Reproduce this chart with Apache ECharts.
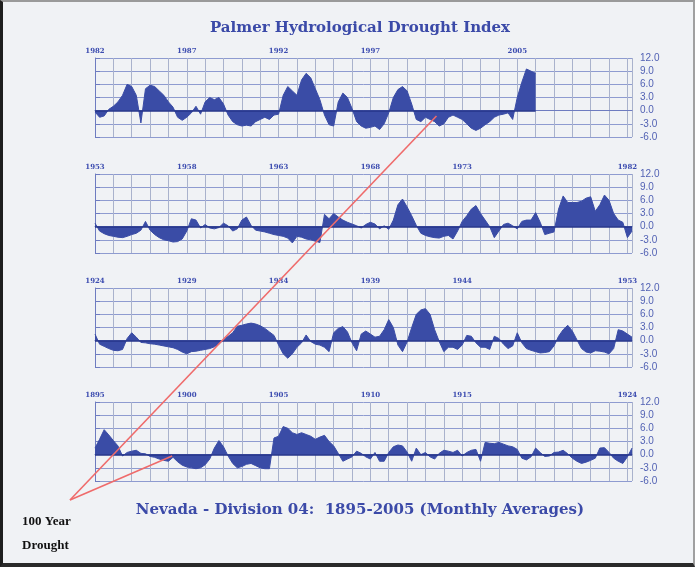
<!DOCTYPE html>
<html>
<head>
<meta charset="utf-8">
<title>Palmer Hydrological Drought Index</title>
<script src="https://cdn.jsdelivr.net/npm/echarts@6.0.0/dist/echarts.min.js"></script>
<style>
	html, body { margin: 0; padding: 0; background: #f0f2f5; }
	#chart { position: absolute; left: 0; top: 0; width: 695px; height: 567px; }
	#frame {
		position: absolute; left: 0; top: 0; width: 695px; height: 567px; box-sizing: border-box;
		border-left: 3px solid #1e1e1e; border-bottom: 4px solid #2a2a2a;
		border-top: 2px solid #9a9a9a; border-right: 2px solid #a0a0a0;
		pointer-events: none;
	}
</style>
</head>
<body>
<div id="chart"></div>
<div id="frame"></div>
<script>
// PHDI, quarterly readings, one array per panel (top panel first)
const step = 0.25;

const phdi1982 = [
	-0.3, -1.5, -1.2, 0.3, 1.0, 2.0, 3.5, 6.0, 5.5, 3.5, -2.8, 5.0, 5.8, 5.5, 4.5, 3.5,
	2.0, 0.8, -1.5, -2.2, -1.5, -0.5, 1.0, -0.8, 2.0, 3.0, 2.5, 3.0, 1.5, -1.0, -2.5, -3.2,
	-3.5, -3.3, -3.5, -2.5, -2.0, -1.5, -2.0, -1.0, -0.8, 3.5, 5.5, 4.5, 3.5, 7.0, 8.5, 7.5,
	5.0, 2.5, -1.0, -3.2, -3.5, 2.0, 4.0, 3.0, 0.5, -2.5, -3.5, -4.0, -3.8, -3.5, -4.3, -3.0,
	-0.5, 3.0, 4.8, 5.5, 4.5, 1.5, -2.0, -2.5, -1.5, -2.0, -2.5, -3.5, -3.0, -1.5, -1.0, -1.5,
	-2.0, -3.0, -4.0, -4.5, -4.0, -3.2, -2.5, -1.5, -1.0, -0.8, -0.5, -2.0, 3.0, 6.5, 9.5, 9.0,
	8.5
];

const phdi1953 = [
	0.8, -1.0, -1.6, -2.0, -2.2, -2.4, -2.5, -2.2, -1.8, -1.5, -0.8, 1.2, -0.8, -1.8, -2.5, -3.0,
	-3.2, -3.5, -3.4, -2.8, -1.0, 1.8, 1.5, -0.3, 0.5, -0.3, -0.5, -0.2, 0.8, 0.2, -1.0, -0.5,
	1.5, 2.2, 0.3, -0.8, -1.0, -1.2, -1.5, -1.8, -2.0, -2.2, -2.6, -3.7, -2.2, -2.4, -2.8, -3.0,
	-3.3, -3.6, 2.8, 1.8, 3.0, 2.2, 1.5, 1.0, 0.6, 0.2, -0.3, 0.5, 1.0, 0.6, -0.5, 0.2,
	-0.6, 1.5, 5.0, 6.3, 4.5, 2.5, 0.3, -1.5, -2.0, -2.3, -2.5, -2.6, -2.2, -2.0, -2.8, -1.0,
	1.2, 2.5, 4.0, 4.8, 3.0, 1.5, 0.0, -2.5, -1.0, 0.5, 0.8, 0.2, -0.5, 1.2, 1.5, 1.5,
	3.2, 1.0, -1.8, -1.5, -1.2, 4.0, 7.0, 5.5, 5.5, 5.5, 5.8, 6.5, 6.8, 3.5, 5.0, 7.2,
	6.0, 3.0, 1.5, 1.0, -2.5, -1.0
];

const phdi1924 = [
	1.5, -0.8, -1.3, -1.8, -2.2, -2.3, -2.0, 0.5, 1.8, 0.8, -0.4, -0.5, -0.7, -0.8, -1.0, -1.2,
	-1.4, -1.6, -2.0, -2.6, -3.0, -2.5, -2.4, -2.2, -2.0, -1.8, -1.4, -0.8, 0.2, 1.0, 1.8, 3.3,
	3.5, 3.8, 4.0, 3.8, 3.4, 2.8, 2.0, 1.2, -1.0, -3.0, -4.0, -3.0, -1.5, -0.5, 1.3, -0.2,
	-0.8, -1.0, -1.5, -2.5, 1.8, 2.8, 3.2, 2.0, -0.5, -2.3, 1.5, 2.2, 1.5, 0.8, 1.0, 2.5,
	4.8, 3.0, -1.0, -2.5, -0.3, 3.0, 6.0, 7.0, 7.3, 6.0, 2.5, -0.2, -2.5, -1.5, -1.5, -2.0,
	-1.0, 1.2, 1.0, -0.5, -1.5, -1.5, -2.0, 1.0, 0.5, -0.8, -1.8, -1.2, 1.8, -0.5, -1.8, -2.2,
	-2.5, -2.8, -2.7, -2.5, -1.2, 1.0, 2.5, 3.5, 2.2, 0.2, -1.8, -2.6, -2.8, -2.3, -2.4, -2.6,
	-3.0, -1.8, 2.5, 2.2, 1.5, 0.8
];

const phdi1895 = [
	1.5, 3.5, 5.7, 4.5, 3.2, 2.0, -0.3, 0.5, 0.8, 1.0, 0.3, 0.2, -0.4, -0.6, -1.0, -1.3,
	-1.5, -0.6, -1.6, -2.4, -2.8, -3.0, -3.2, -3.0, -2.3, -1.0, 1.5, 3.2, 1.8, -0.3, -2.0, -3.0,
	-2.7, -2.2, -2.0, -2.5, -3.0, -3.2, -3.2, 3.8, 4.2, 6.4, 6.0, 5.0, 4.6, 5.0, 4.6, 4.2,
	3.5, 4.0, 4.4, 3.0, 2.0, 0.3, -1.5, -1.0, -0.5, 0.8, 0.3, -0.5, -1.0, 0.5, -1.5, -1.5,
	0.5, 1.8, 2.2, 2.0, 0.6, -1.5, 1.5, 0.0, 0.5, -0.5, -1.0, 0.3, 1.0, 0.8, 0.5, 1.0,
	-0.3, 0.5, 1.0, 1.2, -1.5, 2.8, 2.6, 2.5, 2.8, 2.4, 2.0, 1.8, 1.2, -0.8, -1.2, -0.5,
	1.5, 0.5, -0.4, -0.3, 0.5, 0.6, 1.0, 0.2, -0.8, -1.5, -2.0, -1.7, -1.3, -0.8, 1.5, 1.6,
	0.5, -0.8, -1.5, -2.0, -0.5, 1.5
];

// year labels along the top edge of each panel, keyed by column (years from panel start)
const yearLabels = [
	{ 0: "1982", 5: "1987", 10: "1992", 15: "1997", 23: "2005" },
	{ 0: "1953", 5: "1958", 10: "1963", 15: "1968", 20: "1973", 29: "1982" },
	{ 0: "1924", 5: "1929", 10: "1934", 15: "1939", 20: "1944", 29: "1953" },
	{ 0: "1895", 5: "1900", 10: "1905", 15: "1910", 20: "1915", 29: "1924" }
];

const rows = [phdi1982, phdi1953, phdi1924, phdi1895];
const panelYears = 29.25;
const phdiMin = -6;
const phdiMax = 12;
const phdiStep = 3;

const colors = {
	fill: "#3a4ca6",
	zero: "#26348a",
	text: "#3d4db0",
	axis: "#6e7cc0",
	hGrid: "#8e9bd0",
	vGrid: "#a9b2cc",
	red: "#ef6b6b"
};

const serif = "'DejaVu Serif', 'Liberation Serif', serif";
const panelTops = [58, 174, 288, 402];
const panelHeight = 79;

const chart = echarts.init(document.getElementById("chart"), null, { renderer: "canvas" });

chart.setOption({
	backgroundColor: "#f0f2f5",
	animation: false,
	title: [
		{
			text: "Palmer Hydrological Drought Index",
			left: 355, top: 16, textAlign: "center",
			textStyle: { fontFamily: serif, fontWeight: "bold", fontSize: 15, color: "#3b4aa8" }
		},
		{
			text: "Nevada - Division 04:  1895-2005 (Monthly Averages)",
			left: 355, top: 498, textAlign: "center",
			textStyle: { fontFamily: serif, fontWeight: "bold", fontSize: 15, color: "#3b4aa8" }
		},
		{
			text: "100 Year\nDrought",
			left: 17, top: 505,
			textStyle: { fontFamily: "'Liberation Serif', serif", fontWeight: "bold", fontSize: 13, lineHeight: 24, color: "#111" }
		}
	],
	grid: panelTops.map(top => ({ left: 95, right: 63, top, height: panelHeight })),
	xAxis: rows.map((_, k) => ({
		type: "value",
		gridIndex: k,
		position: "top",
		min: 0,
		max: panelYears,
		interval: 1,
		axisLine: { show: true, lineStyle: { color: colors.axis } },
		axisTick: { show: false },
		axisLabel: {
			margin: 3,
			fontSize: 7,
			fontWeight: "bold",
			fontFamily: serif,
			color: colors.text,
			formatter: v => yearLabels[k][v] || ""
		},
		splitLine: { lineStyle: { color: colors.vGrid } }
	})),
	yAxis: rows.map((_, k) => ({
		type: "value",
		gridIndex: k,
		position: "right",
		min: phdiMin,
		max: phdiMax,
		interval: phdiStep,
		axisLine: { show: true, lineStyle: { color: colors.axis } },
		axisTick: { show: true, length: 5, lineStyle: { color: colors.axis } },
		axisLabel: {
			margin: 8,
			fontSize: 10,
			fontFamily: "'Liberation Sans', sans-serif",
			color: "#5262b4",
			formatter: v => v.toFixed(1)
		},
		splitLine: { lineStyle: { color: colors.hGrid } }
	})),
	series: rows.map((values, k) => ({
		type: "line",
		xAxisIndex: k,
		yAxisIndex: k,
		data: values.map((v, i) => [i * step, v]),
		symbol: "none",
		lineStyle: { color: colors.fill, width: 1 },
		areaStyle: { color: colors.fill, opacity: 1, origin: "auto" },
		markLine: {
			silent: true,
			symbol: ["none", "none"],
			label: { show: false },
			lineStyle: { color: colors.zero, width: 1.5, type: "solid" },
			data: [[{ coord: [0, 0] }, { coord: [(values.length - 1) * step, 0] }]]
		}
	}))
});

// "100 Year Drought" pointers, anchored at the label, ending on the panel data
const anchor = [70, 500];
const tips = [
	chart.convertToPixel({ gridIndex: 0 }, [18.6, -1.2]),
	chart.convertToPixel({ gridIndex: 3 }, [4.2, -0.3])
];

chart.setOption({
	graphic: tips.map(tip => ({
		type: "line",
		shape: { x1: anchor[0], y1: anchor[1], x2: tip[0], y2: tip[1] },
		style: { stroke: colors.red, lineWidth: 1.6 },
		z: 100
	}))
});
</script>
</body>
</html>
